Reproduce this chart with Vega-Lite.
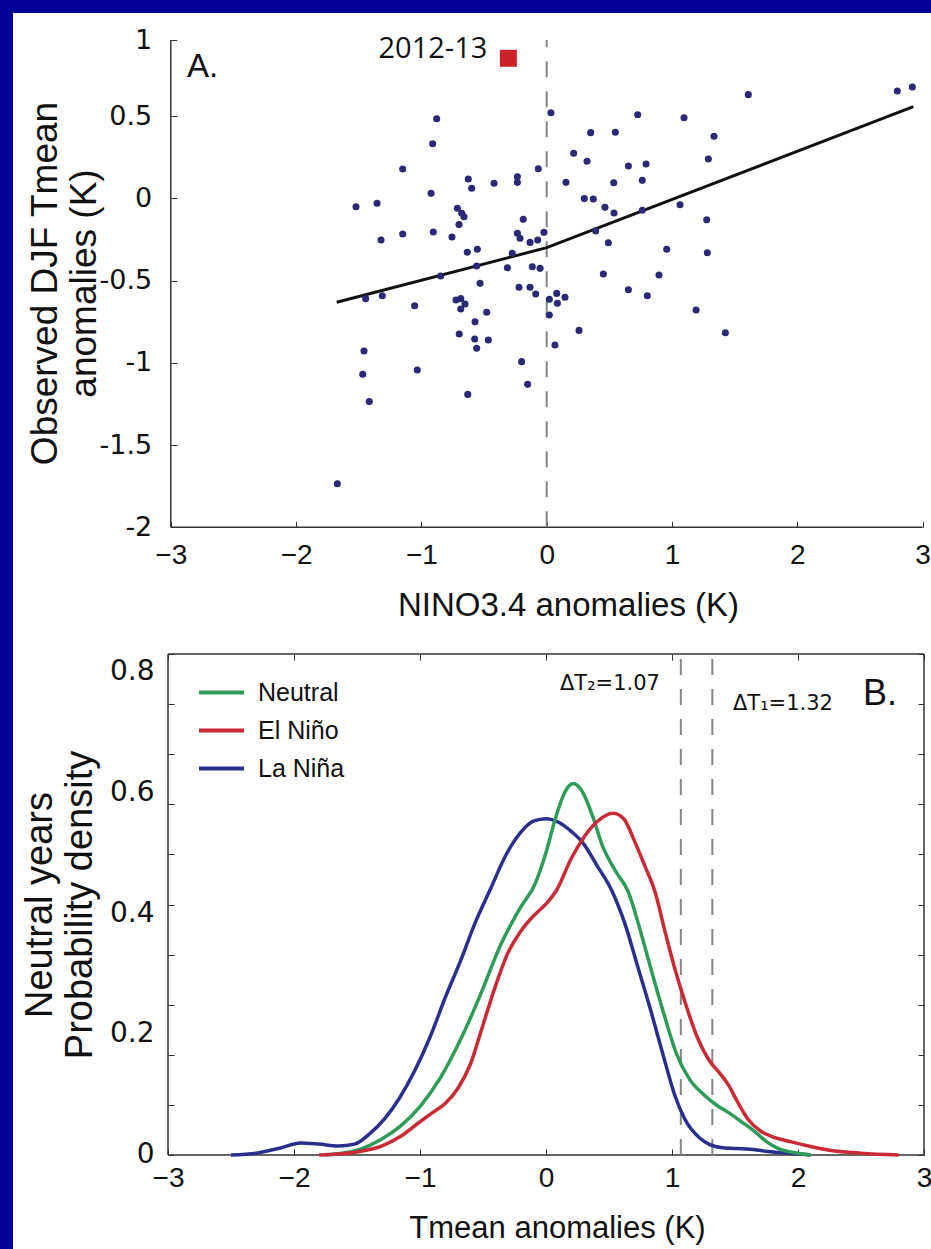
{
  "$schema": "https://vega.github.io/schema/vega-lite/v6.json",
  "background": "#000099",
  "padding": {"left": 13, "top": 13, "right": 0, "bottom": 0},
  "spacing": 0,
  "bounds": "flush",
  "config": {"view": {"stroke": null, "fill": "white"}},
  "resolve": {"legend": {"color": "independent"}},
  "datasets": {
    "one": [{}],
    "scatter": [
      {"x":-0.878,"y":0.484},{"x":-0.910,"y":0.332},{"x":-1.149,"y":0.178},{"x":-0.923,"y":0.030},{"x":-0.626,"y":0.117},{"x":-0.599,"y":0.061},{"x":-0.420,"y":0.091},{"x":-0.234,"y":0.131},{"x":-0.234,"y":0.097},{"x":-0.067,"y":0.180},{"x":0.034,"y":0.520},{"x":-1.522,"y":-0.051},{"x":-1.354,"y":-0.030},{"x":-1.322,"y":-0.253},{"x":-1.149,"y":-0.217},{"x":-0.905,"y":-0.205},{"x":-0.756,"y":-0.235},{"x":-0.713,"y":-0.061},{"x":-0.678,"y":-0.091},{"x":-0.660,"y":-0.112},{"x":-0.700,"y":-0.160},{"x":-0.187,"y":-0.128},{"x":-0.234,"y":-0.213},{"x":-0.213,"y":-0.243},{"x":-0.133,"y":-0.268},{"x":-0.072,"y":-0.253},{"x":-0.022,"y":-0.207},{"x":-0.634,"y":-0.328},{"x":-0.554,"y":-0.310},{"x":-0.275,"y":-0.334},{"x":-0.559,"y":-0.412},{"x":-0.314,"y":-0.422},{"x":-0.115,"y":-0.416},{"x":-0.053,"y":-0.426},{"x":-0.846,"y":-0.472},{"x":-0.532,"y":-0.517},{"x":-0.221,"y":-0.541},{"x":-0.133,"y":-0.541},
      {"x":-0.088,"y":-0.582},{"x":-1.445,"y":-0.610},{"x":-1.312,"y":-0.592},{"x":-1.054,"y":-0.653},{"x":-0.724,"y":-0.618},{"x":-0.686,"y":-0.610},{"x":-0.652,"y":-0.643},{"x":-0.686,"y":-0.673},{"x":-0.479,"y":-0.693},{"x":-0.572,"y":-0.750},{"x":-0.698,"y":-0.825},{"x":-0.575,"y":-0.855},{"x":-0.466,"y":-0.861},{"x":-0.559,"y":-0.912},{"x":0.021,"y":-0.614},{"x":0.021,"y":-0.709},{"x":0.080,"y":-0.578},{"x":0.085,"y":-0.638},{"x":0.066,"y":-0.892},{"x":-1.458,"y":-0.928},{"x":-1.468,"y":-1.070},{"x":-1.416,"y":-1.236},{"x":-1.033,"y":-1.044},{"x":-0.200,"y":-0.993},{"x":-0.152,"y":-1.131},{"x":-0.630,"y":-1.192},{"x":-1.671,"y":-1.735},
      {"x":0.726,"y":0.508},{"x":1.096,"y":0.490},{"x":1.609,"y":0.630},{"x":2.798,"y":0.652},{"x":2.918,"y":0.677},{"x":0.351,"y":0.399},{"x":0.548,"y":0.401},{"x":1.335,"y":0.377},{"x":0.215,"y":0.274},{"x":0.322,"y":0.225},{"x":1.290,"y":0.239},{"x":0.652,"y":0.196},{"x":0.793,"y":0.209},{"x":0.154,"y":0.097},{"x":0.535,"y":0.095},{"x":0.763,"y":0.109},{"x":0.300,"y":-0.002},{"x":0.372,"y":-0.004},{"x":0.465,"y":-0.055},{"x":0.537,"y":-0.089},{"x":0.763,"y":-0.073},{"x":1.064,"y":-0.039},{"x":1.277,"y":-0.130},{"x":0.391,"y":-0.199},{"x":0.492,"y":-0.270},{"x":0.958,"y":-0.310},{"x":1.282,"y":-0.331},{"x":0.452,"y":-0.460},{"x":0.896,"y":-0.466},{"x":0.652,"y":-0.556},
      {"x":0.803,"y":-0.592},{"x":1.192,"y":-0.679},{"x":1.426,"y":-0.817},{"x":0.146,"y":-0.602},{"x":0.258,"y":-0.803}
    ],
    "fit": [{"x":-1.676,"y":-0.632},{"x":0.0,"y":-0.300},{"x":2.926,"y":0.557}],
    "event": [{"label":"2012-13","x":-0.306,"y":0.851}],
    "pdf": [
      {"type":"La Niña","x":-2.5,"y":0.0},{"type":"La Niña","x":-2.3,"y":0.003},{"type":"La Niña","x":-2.1,"y":0.012},{"type":"La Niña","x":-1.95,"y":0.02},{"type":"La Niña","x":-1.8,"y":0.018},{"type":"La Niña","x":-1.65,"y":0.015},{"type":"La Niña","x":-1.52,"y":0.018},{"type":"La Niña","x":-1.4,"y":0.035},{"type":"La Niña","x":-1.28,"y":0.06},{"type":"La Niña","x":-1.16,"y":0.095},{"type":"La Niña","x":-1.04,"y":0.14},{"type":"La Niña","x":-0.92,"y":0.195},{"type":"La Niña","x":-0.8,"y":0.26},{"type":"La Niña","x":-0.68,"y":0.32},{"type":"La Niña","x":-0.56,"y":0.385},{"type":"La Niña","x":-0.44,"y":0.44},{"type":"La Niña","x":-0.32,"y":0.495},{"type":"La Niña","x":-0.206,"y":0.532},{"type":"La Niña","x":-0.1,"y":0.552},{"type":"La Niña","x":0.0,"y":0.556},{"type":"La Niña","x":0.1,"y":0.55},{"type":"La Niña","x":0.2,"y":0.535},{"type":"La Niña","x":0.296,"y":0.515},{"type":"La Niña","x":0.4,"y":0.48},{"type":"La Niña","x":0.52,"y":0.438},{"type":"La Niña","x":0.63,"y":0.38},{"type":"La Niña","x":0.73,"y":0.31},{"type":"La Niña","x":0.83,"y":0.24},{"type":"La Niña","x":0.93,"y":0.165},{"type":"La Niña","x":1.02,"y":0.1},{"type":"La Niña","x":1.1,"y":0.06},{"type":"La Niña","x":1.22,"y":0.028},{"type":"La Niña","x":1.3,"y":0.017},{"type":"La Niña","x":1.4,"y":0.012},{"type":"La Niña","x":1.6,"y":0.01},{"type":"La Niña","x":1.8,"y":0.005},{"type":"La Niña","x":2.0,"y":0.002},{"type":"La Niña","x":2.1,"y":0.0},
      {"type":"Neutral","x":-1.75,"y":0.0},{"type":"Neutral","x":-1.5,"y":0.008},{"type":"Neutral","x":-1.3,"y":0.027},{"type":"Neutral","x":-1.16,"y":0.047},{"type":"Neutral","x":-1.0,"y":0.08},{"type":"Neutral","x":-0.84,"y":0.127},{"type":"Neutral","x":-0.68,"y":0.19},{"type":"Neutral","x":-0.52,"y":0.265},{"type":"Neutral","x":-0.365,"y":0.345},{"type":"Neutral","x":-0.2,"y":0.41},{"type":"Neutral","x":-0.087,"y":0.448},{"type":"Neutral","x":0.0,"y":0.5},{"type":"Neutral","x":0.08,"y":0.56},{"type":"Neutral","x":0.15,"y":0.6},{"type":"Neutral","x":0.217,"y":0.614},{"type":"Neutral","x":0.29,"y":0.6},{"type":"Neutral","x":0.37,"y":0.56},{"type":"Neutral","x":0.45,"y":0.51},{"type":"Neutral","x":0.55,"y":0.47},{"type":"Neutral","x":0.653,"y":0.435},{"type":"Neutral","x":0.75,"y":0.37},{"type":"Neutral","x":0.85,"y":0.295},{"type":"Neutral","x":0.94,"y":0.23},{"type":"Neutral","x":1.04,"y":0.165},{"type":"Neutral","x":1.14,"y":0.125},{"type":"Neutral","x":1.25,"y":0.1},{"type":"Neutral","x":1.35,"y":0.083},{"type":"Neutral","x":1.45,"y":0.07},{"type":"Neutral","x":1.55,"y":0.055},{"type":"Neutral","x":1.65,"y":0.04},{"type":"Neutral","x":1.75,"y":0.022},{"type":"Neutral","x":1.85,"y":0.01},{"type":"Neutral","x":2.0,"y":0.003},{"type":"Neutral","x":2.1,"y":0.0},
      {"type":"El Niño","x":-1.8,"y":0.0},{"type":"El Niño","x":-1.5,"y":0.005},{"type":"El Niño","x":-1.3,"y":0.015},{"type":"El Niño","x":-1.16,"y":0.03},{"type":"El Niño","x":-1.0,"y":0.055},{"type":"El Niño","x":-0.9,"y":0.07},{"type":"El Niño","x":-0.8,"y":0.085},{"type":"El Niño","x":-0.7,"y":0.11},{"type":"El Niño","x":-0.6,"y":0.15},{"type":"El Niño","x":-0.5,"y":0.215},{"type":"El Niño","x":-0.4,"y":0.28},{"type":"El Niño","x":-0.3,"y":0.335},{"type":"El Niño","x":-0.2,"y":0.37},{"type":"El Niño","x":-0.1,"y":0.395},{"type":"El Niño","x":0.0,"y":0.415},{"type":"El Niño","x":0.085,"y":0.438},{"type":"El Niño","x":0.2,"y":0.49},{"type":"El Niño","x":0.3,"y":0.525},{"type":"El Niño","x":0.4,"y":0.55},{"type":"El Niño","x":0.534,"y":0.565},{"type":"El Niño","x":0.62,"y":0.555},{"type":"El Niño","x":0.7,"y":0.52},{"type":"El Niño","x":0.78,"y":0.48},{"type":"El Niño","x":0.865,"y":0.435},{"type":"El Niño","x":0.95,"y":0.365},{"type":"El Niño","x":1.02,"y":0.31},{"type":"El Niño","x":1.1,"y":0.255},{"type":"El Niño","x":1.2,"y":0.195},{"type":"El Niño","x":1.3,"y":0.155},{"type":"El Niño","x":1.38,"y":0.135},{"type":"El Niño","x":1.45,"y":0.115},{"type":"El Niño","x":1.52,"y":0.088},{"type":"El Niño","x":1.6,"y":0.06},{"type":"El Niño","x":1.7,"y":0.04},{"type":"El Niño","x":1.8,"y":0.03},{"type":"El Niño","x":1.94,"y":0.022},{"type":"El Niño","x":2.1,"y":0.014},{"type":"El Niño","x":2.25,"y":0.008},{"type":"El Niño","x":2.5,"y":0.003},{"type":"El Niño","x":2.8,"y":0.0}
    ]
  },
  "vconcat": [
    {
      "width": 918,
      "height": 617,
      "resolve": {"axis": {"x": "independent", "y": "independent"}},
      "layer": [
        {
          "data": {"name": "one"},
          "mark": {"type": "rule", "color": "#333333", "strokeWidth": 1.5},
          "encoding": {
            "x": {"datum": -3, "type": "quantitative", "scale": {"domain": [-4.2594, 3.067], "nice": false, "zero": false},
              "axis": {"orient": "bottom", "offset": -102.7, "values": [-3,-2,-1,0,1,2,3], "labelExpr": "replace(toString(datum.value), '-', '−')",
                "domain": false, "grid": false, "tickSize": -6, "tickColor": "#333333", "labelPadding": 20, "labelFont": "Liberation Sans", "labelFontSize": 28, "labelColor": "#111111",
                "labelOverlap": false, "labelFlush": false, "title": "NINO3.4 anomalies (K)", "titleFont": "Liberation Sans", "titleFontSize": 33, "titleFontWeight": "normal", "titleColor": "#111111", "titlePadding": 20, "titleX": 555}},
            "y": {"datum": -2, "type": "quantitative", "scale": {"domain": [-2.6243, 1.1264], "nice": false, "zero": false},
              "axis": {"orient": "left", "offset": -157.8, "values": [-2,-1.5,-1,-0.5,0,0.5,0.962], "labelExpr": "datum.value > 0.9 ? '1' : toString(datum.value)",
                "domain": false, "grid": false, "tickSize": -6, "tickColor": "#333333", "labelPadding": 25, "labelFont": "DejaVu Sans", "labelFontSize": 27, "labelColor": "#111111",
                "labelOverlap": false, "labelFlush": false, "title": ["Observed DJF Tmean", "anomalies (K)"], "titleFont": "Liberation Sans", "titleFontSize": 37, "titleFontWeight": "normal", "titleColor": "#111111", "titlePadding": -4, "titleY": 270}},
            "y2": {"datum": 0.962}
          }
        },
        {
          "data": {"name": "one"},
          "mark": {"type": "rule", "color": "#333333", "strokeWidth": 1.5},
          "encoding": {
            "x": {"datum": -3, "type": "quantitative", "scale": {"domain": [-4.2594, 3.067], "nice": false, "zero": false}, "axis": null},
            "x2": {"datum": 3},
            "y": {"datum": -2, "type": "quantitative", "scale": {"domain": [-2.6243, 1.1264], "nice": false, "zero": false}, "axis": null}
          }
        },
        {
          "data": {"name": "one"},
          "mark": {"type": "rule", "color": "#858585", "strokeWidth": 2, "strokeDash": [16, 14]},
          "encoding": {
            "x": {"datum": 0, "type": "quantitative", "scale": {"domain": [-4.2594, 3.067], "nice": false, "zero": false}, "axis": null},
            "y": {"datum": -2, "type": "quantitative", "scale": {"domain": [-2.6243, 1.1264], "nice": false, "zero": false}, "axis": null},
            "y2": {"datum": 0.962}
          }
        },
        {
          "data": {"name": "fit"},
          "mark": {"type": "line", "color": "#111111", "strokeWidth": 3},
          "encoding": {
            "x": {"field": "x", "type": "quantitative", "scale": {"domain": [-4.2594, 3.067], "nice": false, "zero": false}, "axis": null},
            "y": {"field": "y", "type": "quantitative", "scale": {"domain": [-2.6243, 1.1264], "nice": false, "zero": false}, "axis": null}
          }
        },
        {
          "data": {"name": "scatter"},
          "mark": {"type": "circle", "size": 50, "color": "#2a2a74", "opacity": 1},
          "encoding": {
            "x": {"field": "x", "type": "quantitative", "scale": {"domain": [-4.2594, 3.067], "nice": false, "zero": false}, "axis": null},
            "y": {"field": "y", "type": "quantitative", "scale": {"domain": [-2.6243, 1.1264], "nice": false, "zero": false}, "axis": null}
          }
        },
        {
          "data": {"name": "event"},
          "mark": {"type": "square", "size": 289, "color": "#cc2229", "opacity": 1},
          "encoding": {
            "x": {"field": "x", "type": "quantitative", "scale": {"domain": [-4.2594, 3.067], "nice": false, "zero": false}, "axis": null},
            "y": {"field": "y", "type": "quantitative", "scale": {"domain": [-2.6243, 1.1264], "nice": false, "zero": false}, "axis": null}
          }
        },
        {
          "data": {"name": "event"},
          "mark": {"type": "text", "align": "right", "baseline": "alphabetic", "dx": -21, "dy": 0, "font": "Open Sans", "fontSize": 29, "color": "#111111"},
          "encoding": {
            "x": {"field": "x", "type": "quantitative", "scale": {"domain": [-4.2594, 3.067], "nice": false, "zero": false}, "axis": null},
            "y": {"field": "y", "type": "quantitative", "scale": {"domain": [-2.6243, 1.1264], "nice": false, "zero": false}, "axis": null},
            "text": {"field": "label"}
          }
        },
        {
          "data": {"name": "one"},
          "mark": {"type": "text", "text": "A.", "align": "left", "baseline": "alphabetic", "font": "Liberation Sans", "fontSize": 33, "color": "#111111"},
          "encoding": {
            "x": {"datum": -2.871, "type": "quantitative", "scale": {"domain": [-4.2594, 3.067], "nice": false, "zero": false}, "axis": null},
            "y": {"datum": 0.737, "type": "quantitative", "scale": {"domain": [-2.6243, 1.1264], "nice": false, "zero": false}, "axis": null}
          }
        }
      ]
    },
    {
      "width": 918,
      "height": 619,
      "resolve": {"axis": {"x": "independent", "y": "independent"}},
      "layer": [
        {
          "data": {"name": "one"},
          "mark": {"type": "rule", "color": "#333333", "strokeWidth": 1.5},
          "encoding": {
            "x": {"datum": -3, "type": "quantitative", "scale": {"domain": [-4.2302, 3.0556], "nice": false, "zero": false},
              "axis": {"orient": "bottom", "offset": -94, "values": [-3,-2,-1,0,1,2,3], "labelExpr": "replace(toString(datum.value), '-', '−')",
                "domain": false, "grid": false, "tickSize": -6, "tickColor": "#333333", "labelPadding": 15, "labelFont": "Liberation Sans", "labelFontSize": 28, "labelColor": "#111111",
                "labelOverlap": false, "labelFlush": false, "title": "Tmean anomalies (K)", "titleFont": "Liberation Sans", "titleFontSize": 31, "titleFontWeight": "normal", "titleColor": "#111111", "titlePadding": 21, "titleX": 544}},
            "y": {"datum": 0, "type": "quantitative", "scale": {"domain": [-0.1554, 0.8678], "nice": false, "zero": false},
              "axis": {"orient": "left", "offset": -155, "values": [0, 0.2, 0.4, 0.6, 0.8], "labelExpr": "toString(datum.value)",
                "domain": false, "grid": false, "ticks": false, "labelPadding": 14, "labelFont": "DejaVu Sans", "labelFontSize": 28, "labelColor": "#111111",
                "labelOverlap": false, "labelFlush": false, "title": ["Neutral years", "Probability density"], "titleFont": "Liberation Sans", "titleFontSize": 38, "titleFontWeight": "normal", "titleColor": "#111111", "titlePadding": 10, "titleY": 274.5}},
            "y2": {"datum": 0.828}
          }
        },
        {
          "data": {"name": "one"},
          "mark": {"type": "rule", "color": "#333333", "strokeWidth": 1.5},
          "encoding": {
            "x": {"datum": 3, "type": "quantitative", "scale": {"domain": [-4.2302, 3.0556], "nice": false, "zero": false},
              "axis": {"orient": "top", "offset": -24.1, "values": [-3,-2,-1,0,1,2,3], "labels": false, "domain": false, "grid": false, "tickSize": -6, "tickColor": "#333333", "title": null}},
            "y": {"datum": 0, "type": "quantitative", "scale": {"domain": [-0.1554, 0.8678], "nice": false, "zero": false},
              "axis": {"orient": "left", "offset": -155, "values": [0, 0.0828, 0.1656, 0.2484, 0.3312, 0.414, 0.4968, 0.5796, 0.6624, 0.7452, 0.828], "labels": false, "domain": false, "grid": false, "tickSize": -6, "tickColor": "#333333", "title": null}},
            "y2": {"datum": 0.828}
          }
        },
        {
          "data": {"name": "one"},
          "mark": {"type": "rule", "color": "#333333", "strokeWidth": 1.5},
          "encoding": {
            "x": {"datum": -3, "type": "quantitative", "scale": {"domain": [-4.2302, 3.0556], "nice": false, "zero": false}, "axis": null},
            "x2": {"datum": 3},
            "y": {"datum": 0.828, "type": "quantitative", "scale": {"domain": [-0.1554, 0.8678], "nice": false, "zero": false},
              "axis": {"orient": "right", "offset": -7, "values": [0, 0.0828, 0.1656, 0.2484, 0.3312, 0.414, 0.4968, 0.5796, 0.6624, 0.7452, 0.828], "labels": false, "domain": false, "grid": false, "tickSize": -6, "tickColor": "#333333", "title": null}}
          }
        },
        {
          "data": {"name": "one"},
          "mark": {"type": "rule", "color": "#333333", "strokeWidth": 1.5},
          "encoding": {
            "x": {"datum": -3, "type": "quantitative", "scale": {"domain": [-4.2302, 3.0556], "nice": false, "zero": false}, "axis": null},
            "x2": {"datum": 3},
            "y": {"datum": 0, "type": "quantitative", "scale": {"domain": [-0.1554, 0.8678], "nice": false, "zero": false}, "axis": null}
          }
        },
        {
          "data": {"name": "one"},
          "mark": {"type": "rule", "color": "#858585", "strokeWidth": 2, "strokeDash": [16, 14]},
          "encoding": {
            "x": {"datum": 1.07, "type": "quantitative", "scale": {"domain": [-4.2302, 3.0556], "nice": false, "zero": false}, "axis": null},
            "y": {"datum": 0, "type": "quantitative", "scale": {"domain": [-0.1554, 0.8678], "nice": false, "zero": false}, "axis": null},
            "y2": {"datum": 0.828}
          }
        },
        {
          "data": {"name": "one"},
          "mark": {"type": "rule", "color": "#858585", "strokeWidth": 2, "strokeDash": [16, 14]},
          "encoding": {
            "x": {"datum": 1.32, "type": "quantitative", "scale": {"domain": [-4.2302, 3.0556], "nice": false, "zero": false}, "axis": null},
            "y": {"datum": 0, "type": "quantitative", "scale": {"domain": [-0.1554, 0.8678], "nice": false, "zero": false}, "axis": null},
            "y2": {"datum": 0.828}
          }
        },
        {
          "data": {"name": "pdf"},
          "mark": {"type": "line", "strokeWidth": 3.5, "interpolate": "monotone"},
          "encoding": {
            "x": {"field": "x", "type": "quantitative", "scale": {"domain": [-4.2302, 3.0556], "nice": false, "zero": false}, "axis": null},
            "y": {"field": "y", "type": "quantitative", "scale": {"domain": [-0.1554, 0.8678], "nice": false, "zero": false}, "axis": null},
            "color": {"field": "type", "type": "nominal",
              "scale": {"domain": ["Neutral", "El Niño", "La Niña"], "range": ["#2e9b5a", "#c92a35", "#2b2f8c"]},
              "legend": {"orient": "none", "legendX": 184, "legendY": 38, "title": null, "padding": 0, "symbolType": "stroke", "symbolSize": 2025, "symbolStrokeWidth": 4,
                "labelFont": "Liberation Sans", "labelFontSize": 25, "labelColor": "#111111", "rowPadding": -6, "labelOffset": 12}}
          }
        },
        {
          "data": {"name": "one"},
          "mark": {"type": "text", "text": "ΔT₂=1.07", "align": "left", "baseline": "alphabetic", "font": "DejaVu Sans", "fontSize": 21, "color": "#111111"},
          "encoding": {
            "x": {"datum": 0.111, "type": "quantitative", "scale": {"domain": [-4.2302, 3.0556], "nice": false, "zero": false}, "axis": null},
            "y": {"datum": 0.769, "type": "quantitative", "scale": {"domain": [-0.1554, 0.8678], "nice": false, "zero": false}, "axis": null}
          }
        },
        {
          "data": {"name": "one"},
          "mark": {"type": "text", "text": "ΔT₁=1.32", "align": "left", "baseline": "alphabetic", "font": "DejaVu Sans", "fontSize": 21, "color": "#111111"},
          "encoding": {
            "x": {"datum": 1.484, "type": "quantitative", "scale": {"domain": [-4.2302, 3.0556], "nice": false, "zero": false}, "axis": null},
            "y": {"datum": 0.736, "type": "quantitative", "scale": {"domain": [-0.1554, 0.8678], "nice": false, "zero": false}, "axis": null}
          }
        },
        {
          "data": {"name": "one"},
          "mark": {"type": "text", "text": "B.", "align": "left", "baseline": "alphabetic", "font": "Liberation Sans", "fontSize": 36, "color": "#111111"},
          "encoding": {
            "x": {"datum": 2.516, "type": "quantitative", "scale": {"domain": [-4.2302, 3.0556], "nice": false, "zero": false}, "axis": null},
            "y": {"datum": 0.744, "type": "quantitative", "scale": {"domain": [-0.1554, 0.8678], "nice": false, "zero": false}, "axis": null}
          }
        }
      ]
    }
  ]
}
